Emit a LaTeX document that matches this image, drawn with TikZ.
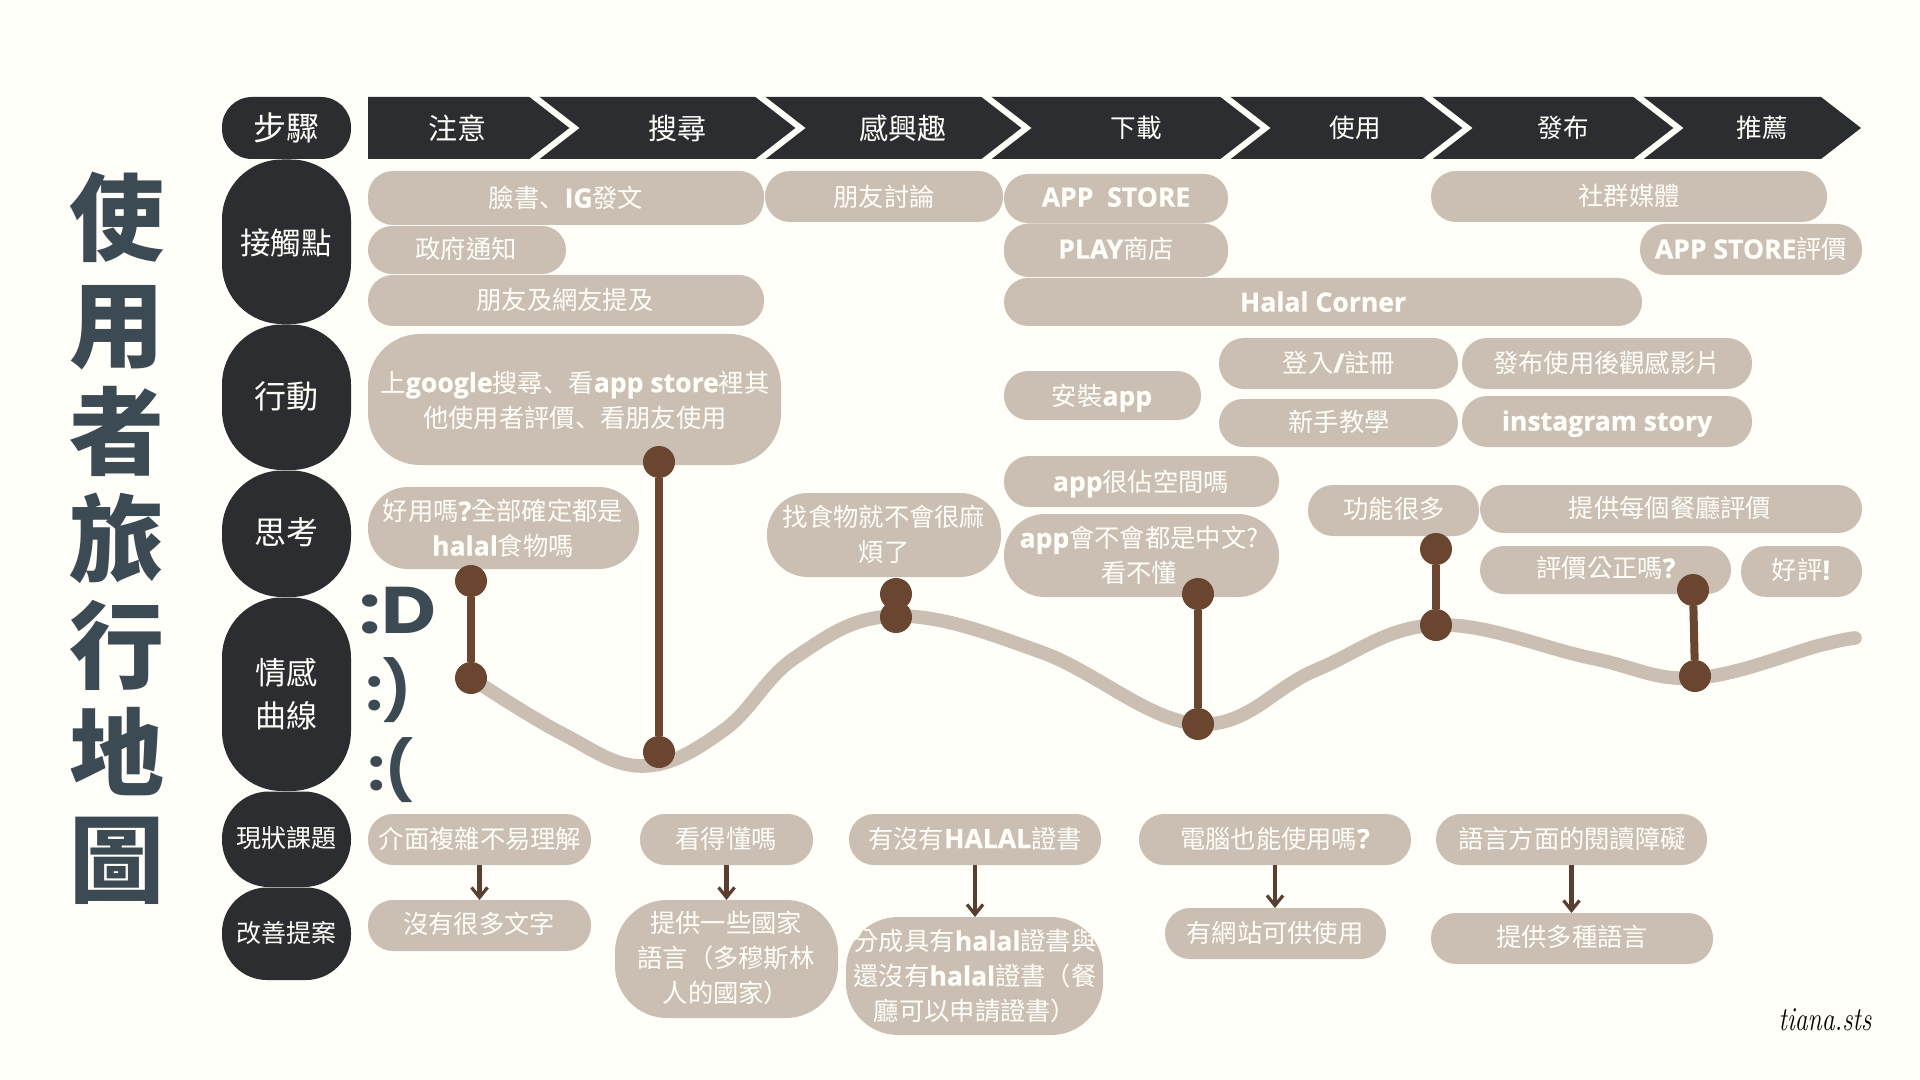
\documentclass[tikz,border=0pt]{standalone}
\usepackage{fontspec}
\usetikzlibrary{arrows.meta}
\newfontfamily\cjk{Noto Sans CJK TC}
\newfontfamily\cjkjp{Noto Sans CJK JP}
\newfontfamily\opensans{Open Sans}[Scale=1.05,BoldFeatures={FakeBold=0.7}]
\newfontfamily\popp{Poppins}
\definecolor{bgc}{HTML}{FFFEF9}
\definecolor{tanc}{HTML}{CBBFB3}
\definecolor{darkc}{HTML}{2B2D30}
\definecolor{brownc}{HTML}{6A4630}
\definecolor{arrc}{HTML}{5A3F30}
\definecolor{titlec}{HTML}{3C4A54}
\newcommand\B[1]{{\opensans\bfseries #1}}
\newcommand\JP[1]{{\cjkjp #1}}
\newcommand\LS{\rule[-0.27em]{0pt}{1.3em}}
\newcommand\fsz[2]{\fontsize{#1pt}{#2pt}\selectfont\lineskiplimit=-100pt\relax}
\tikzset{
  pillbox/.style={rectangle,inner sep=0pt,outer sep=0pt,fill=tanc},
  blackbox/.style={rectangle,inner sep=0pt,outer sep=0pt,fill=darkc},
  pilltext/.style={inner sep=0pt,outer sep=0pt,align=center,text=bgc,font=\cjk\fsz{12.65}{17.5}},
  dotn/.style={circle,fill=brownc,inner sep=0pt,outer sep=0pt,minimum size=16pt},
  stem/.style={brownc,line width=4pt},
  arr/.style={arrc,line width=2.3pt,-{Straight Barb[length=5pt,width=8pt,line width=1.6pt]}},
  curveline/.style={tanc,line width=6.8pt,line cap=round,line join=round},
  emo/.style={inner sep=0pt,outer sep=0pt,anchor=base,text=titlec,font=\popp\bfseries\fontsize{29pt}{36pt}\selectfont},
}
% name x1 y1 x2 y2 radius textx texty text
\newcommand\pill[9]{%
  \pgfmathsetmacro\mw{(#4-#2)*0.5}\pgfmathsetmacro\mh{(#5-#3)*0.5}\pgfmathsetmacro\mr{#6*0.5}%
  \node[pillbox,minimum width=\mw pt,minimum height=\mh pt,rounded corners=\mr pt] (#1) at ({(#2+#4)/2},{(#3+#5)/2}) {};%
  \node[pilltext] (#1t) at (#7,#8) {\LS #9};}
% name y1 y2 radius texty fontsize leading text
\newcommand\lab[8]{%
  \pgfmathsetmacro\mh{(#3-#2)*0.5}\pgfmathsetmacro\mr{#4*0.5}%
  \node[blackbox,minimum width=64.5pt,minimum height=\mh pt,rounded corners=\mr pt] (#1) at (286.5,{(#2+#3)/2}) {};%
  \node[pilltext,font=\cjk\fsz{#6}{#7}] (#1t) at (286,#5) {\LS #8};}
\newcommand\chev[1]{\draw[bgc,line width=3pt,miter limit=10] (#1-9,90) -- (#1+40,128) -- (#1-9,166);}
\begin{document}
\begin{tikzpicture}[x=0.5pt,y=-0.5pt]
\useasboundingbox (0,0) rectangle (1920,1080);
\fill[bgc] (0,0) rectangle (1920,1080);
% title
\node[inner sep=0pt,outer sep=0pt,align=center,text=titlec,font=\cjk\bfseries\fsz{47.5}{53.5}] (title) at (117,538) {\LS 使\\\LS 用\\\LS 者\\\LS 旅\\\LS 行\\\LS 地\\\LS 圖};
% row labels
\lab{lstep}{97}{159}{30}{128}{16.5}{21}{步驟}
\lab{ltouch}{159.5}{324}{60}{243}{15.2}{21}{接觸點}
\lab{lact}{324.5}{470}{60}{396}{16}{21}{行動}
\lab{lthink}{470.5}{597}{60}{532}{16}{21}{思考}
\lab{lemo}{597.5}{791}{60}{694.5}{15.5}{21.5}{情感\\\LS 曲線}
\lab{lissue}{791.5}{887}{47}{838}{12.5}{17}{現狀課題}
\lab{lprop}{887.5}{980}{45}{933}{12.5}{17}{改善提案}
% step band
\fill[darkc] (368,97) -- (1821,97) -- (1861,128) -- (1821,159) -- (368,159) -- cycle;
\begin{scope}
\clip (360,97) rectangle (1870,159);
\chev{534.5}\chev{760.5}\chev{986.5}\chev{1225.5}\chev{1427.5}\chev{1638.5}
\end{scope}
\node[pilltext,font=\cjk\fsz{14.5}{17}] (s1) at (457,128) {\LS 注意};
\node[pilltext,font=\cjk\fsz{14.5}{17}] (s2) at (677,128) {\LS 搜尋};
\node[pilltext,font=\cjk\fsz{14.5}{17}] (s3) at (903,128) {\LS 感興趣};
\node[pilltext,font=\cjk\fsz{12.8}{17}] (s4) at (1136,128) {\LS 下載};
\node[pilltext,font=\cjk\fsz{12.8}{17}] (s5) at (1355,128) {\LS 使用};
\node[pilltext,font=\cjk\fsz{12.8}{17}] (s6) at (1563,128) {\LS 發布};
\node[pilltext,font=\cjk\fsz{12.8}{17}] (s7) at (1762,128) {\LS 推薦};
% touch points
\pill{t1}{368}{171}{764}{225}{25}{566}{198}{臉書\JP{、}\B{IG}發文}
\pill{t2}{765}{171}{1003}{222}{25}{884}{197}{朋友討論}
\pill{t3}{368}{226}{566}{274}{24}{466}{249}{政府通知}
\pill{t4}{368}{275}{764}{326}{25}{565}{300}{朋友及網友提及}
\pill{t5}{1004}{174}{1228}{223}{24}{1116}{197}{\B{APP\ \ STORE}}
\pill{t6}{1004}{223.5}{1228}{277}{25}{1116}{249}{\B{PLAY}商店}
\pill{t7}{1004}{278}{1642}{326}{24}{1323}{302}{\B{Halal Corner}}
\pill{t8}{1431}{171}{1827}{222}{25}{1629}{196}{社群媒體}
\pill{t9}{1640}{224}{1862}{275}{25}{1751}{249}{\B{APP STORE}評價}
% actions
\pill{a1}{368}{334}{781}{465}{52}{575}{400}{上\B{google}搜尋\JP{、}看\B{app store}裡其\\\LS 他使用者評價\JP{、}看朋友使用}
\pill{a2}{1004}{371}{1201}{420}{24}{1102}{396}{安裝\B{app}}
\pill{a3}{1219}{338}{1458}{389}{25}{1339}{363}{登入\B{/}註冊}
\pill{a4}{1219}{399}{1458}{447}{24}{1339}{422}{新手教學}
\pill{a5}{1462}{338}{1752}{389}{25}{1607}{363}{發布使用後觀感影片}
\pill{a6}{1462}{396}{1752}{447}{25}{1607}{421}{\B{instagram story}}
% thinking
\pill{h1}{368}{487}{639}{569}{40}{503}{528.5}{好用嗎\B{?}全部確定都是\\\LS \B{halal}食物嗎}
\pill{h2}{767}{493}{1001}{577}{41}{884}{534.5}{找食物就不會很麻\\\LS 煩了}
\pill{h3}{1004}{456}{1279}{507}{25}{1141}{481.5}{\B{app}很佔空間嗎}
\pill{h4}{1004}{514}{1279}{597}{41}{1139}{555.5}{\B{app}會不會都是中文?\\\LS 看不懂}
\pill{h5}{1308}{485}{1479}{536}{25}{1394}{509}{功能很多}
\pill{h6}{1480}{485}{1862}{533}{24}{1670}{508}{提供每個餐廳評價}
\pill{h7}{1480}{546}{1731}{594}{24}{1606}{568}{評價公正嗎\B{?}}
\pill{h8}{1741}{546}{1862}{597}{25}{1801}{570}{好評\B{!}}
% emotion scale
\node[emo,font=\popp\bfseries\fontsize{33pt}{36pt}\selectfont] (e1) at (398,633) {\scalebox{1.14}[1]{:D}};
\node[emo] (e2) at (389,710) {:)};
\node[emo] (e3) at (391,790) {:(};
% curve
\draw[curveline] plot[smooth,tension=0.65] coordinates {(471,678) (561,733) (643,766) (724,730) (796,657) (896,616) (1041,652) (1198,724) (1316,670) (1436,625) (1591,658) (1695,678) (1821,645) (1855,638)};
% dots and stems
\node[dotn] (d1a) at (471,581) {};
\node[dotn] (d1b) at (471,678) {};
\node[dotn] (d2a) at (659,462) {};
\node[dotn] (d2b) at (659,752) {};
\node[dotn] (d3a) at (896,594) {};
\node[dotn] (d3b) at (896,617) {};
\node[dotn] (d4a) at (1198,594) {};
\node[dotn] (d4b) at (1198,724) {};
\node[dotn] (d5a) at (1436,549) {};
\node[dotn] (d5b) at (1436,625) {};
\node[dotn] (d6a) at (1693,590) {};
\node[dotn] (d6b) at (1695,676) {};
\draw[stem] (d1a) -- (d1b);
\draw[stem] (d2a) -- (d2b);
\draw[stem] (d3a) -- (d3b);
\draw[stem] (d4a) -- (d4b);
\draw[stem] (d5a) -- (d5b);
\draw[stem] (d6a) -- (d6b);
% issues
\pill{i1}{368}{814}{591}{865}{25}{480}{838.5}{介面複雜不易理解}
\pill{i2}{640}{814}{813}{865}{25}{726}{838.5}{看得懂嗎}
\pill{i3}{849}{814}{1101}{865}{25}{975}{838.5}{有沒有\B{HALAL}證書}
\pill{i4}{1139}{814}{1411}{865}{25}{1275}{838.5}{電腦也能使用嗎\B{?}}
\pill{i5}{1436}{814}{1707}{865}{25}{1572}{838.5}{語言方面的閱讀障礙}
% proposals
\pill{p1}{368}{900}{591}{951}{25}{479}{924}{沒有很多文字}
\pill{p2}{615}{900}{838}{1018}{52}{726}{958}{提供一些國家\\\LS 語言\JP{（}多穆斯林\\\LS 人的國家\JP{）}}
\pill{p3}{846}{917}{1103}{1035}{52}{975}{976}{分成具有\B{halal}證書與\\\LS 還沒有\B{halal}證書\JP{（}餐\\\LS 廳可以申請證書\JP{）}}
\pill{p4}{1165}{908}{1386}{959}{25}{1275}{933}{有網站可供使用}
\pill{p5}{1431}{913}{1713}{964}{25}{1572}{937}{提供多種語言}
% arrows
\draw[arr] (i1.south) -- (i1.south |- p1.north);
\draw[arr] (i2.south) -- (i2.south |- p2.north);
\draw[arr] (i3.south) -- (i3.south |- p3.north);
\draw[arr] (i4.south) -- (i4.south |- p4.north);
\draw[arr] (i5.south) -- (i5.south |- p5.north);
% signature
\node[inner sep=0pt,outer sep=0pt,text=black,font=\itshape\fontsize{14pt}{16pt}\selectfont] (sig) at (1825,1020) {\scalebox{.92}[1.2]{tiana.sts}};
\end{tikzpicture}
\end{document}
